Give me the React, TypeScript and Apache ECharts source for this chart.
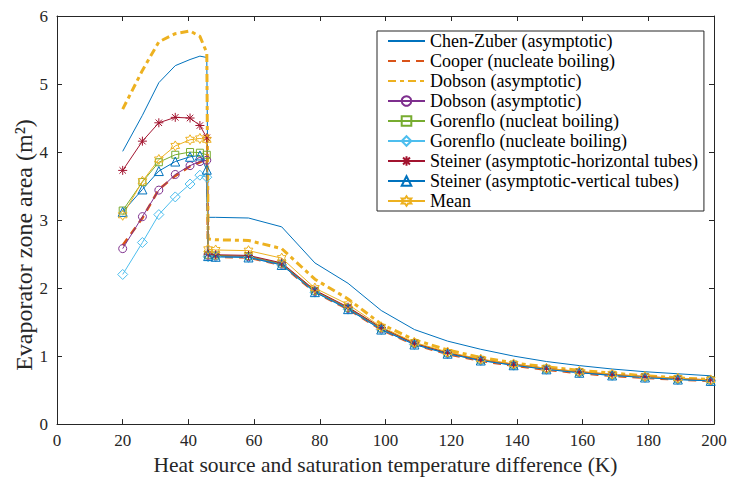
import React, { useEffect, useRef } from 'react';
import * as echarts from 'echarts';

const xVals = [20, 26, 31, 36, 40.5, 43.5, 45.6, 46, 48.3, 58.3, 68.4, 78.5, 88.6, 98.7, 108.8, 118.9, 129, 139, 149, 159, 169, 179, 189, 199];

const chenZuber = [4.01, 4.54, 5.02, 5.27, 5.36, 5.41, 5.39, 3.04, 3.04, 3.03, 2.90, 2.37, 2.07, 1.67, 1.39, 1.22, 1.10, 1.00, 0.92, 0.86, 0.81, 0.77, 0.74, 0.71];
const cooper = [2.63, 3.03, 3.45, 3.65, 3.79, 3.85, 3.90, 2.47, 2.46, 2.45, 2.34, 1.94, 1.69, 1.39, 1.17, 1.03, 0.93, 0.86, 0.80, 0.75, 0.71, 0.68, 0.655, 0.635];
const dobsonAsym = [4.63, 5.2, 5.62, 5.74, 5.78, 5.70, 5.46, 2.72, 2.71, 2.70, 2.58, 2.13, 1.84, 1.47, 1.24, 1.09, 0.98, 0.90, 0.84, 0.79, 0.75, 0.71, 0.68, 0.655];
const dobsonCircle = [2.58, 3.05, 3.44, 3.67, 3.80, 3.86, 3.88, 2.48, 2.47, 2.46, 2.35, 1.95, 1.70, 1.40, 1.18, 1.04, 0.94, 0.87, 0.81, 0.76, 0.72, 0.69, 0.66, 0.64];
const gorenfloNucleat = [3.14, 3.56, 3.85, 3.96, 4.00, 3.99, 3.96, 2.49, 2.48, 2.47, 2.36, 1.96, 1.71, 1.41, 1.19, 1.045, 0.945, 0.875, 0.815, 0.765, 0.725, 0.695, 0.665, 0.645];
const gorenfloNucleate = [2.20, 2.67, 3.08, 3.34, 3.53, 3.66, 3.63, 2.46, 2.46, 2.45, 2.34, 1.94, 1.69, 1.39, 1.17, 1.035, 0.935, 0.865, 0.805, 0.755, 0.715, 0.685, 0.655, 0.635];
const steinerH = [3.73, 4.16, 4.43, 4.51, 4.50, 4.39, 4.21, 2.50, 2.49, 2.48, 2.37, 1.97, 1.72, 1.42, 1.19, 1.05, 0.95, 0.88, 0.82, 0.77, 0.73, 0.70, 0.67, 0.65];
const steinerV = [3.12, 3.45, 3.72, 3.86, 3.93, 3.95, 3.74, 2.47, 2.46, 2.45, 2.34, 1.94, 1.69, 1.39, 1.17, 1.035, 0.935, 0.865, 0.805, 0.755, 0.715, 0.685, 0.655, 0.635];
const meanVals = [3.07, 3.57, 3.89, 4.09, 4.18, 4.20, 4.18, 2.57, 2.56, 2.55, 2.44, 2.00, 1.76, 1.43, 1.20, 1.06, 0.955, 0.885, 0.82, 0.775, 0.735, 0.70, 0.675, 0.65];

const seriesNames = [
  'Chen-Zuber (asymptotic)',
  'Cooper (nucleate boiling)',
  'Dobson (asymptotic)',
  'Dobson (asymptotic) ',
  'Gorenflo (nucleat boiling)',
  'Gorenflo (nucleate boiling)',
  'Steiner (asymptotic-horizontal tubes)',
  'Steiner (asymptotic-vertical tubes)',
  'Mean',
];

const xTicks = { min: 0, max: 200, interval: 20 };
const yTicks = { min: 0, max: 6, interval: 1 };

const FONT = "'Liberation Serif', 'Times New Roman', serif";
const AX = '#262626';

const ASTERISK = 'path://M0,-5L0,5M-5,0L5,0M-3.6,-3.6L3.6,3.6M-3.6,3.6L3.6,-3.6';
const HEXAGRAM = 'path://M0,-10L2.89,-5L8.66,-5L5.77,0L8.66,5L2.89,5L0,10L-2.89,5L-8.66,5L-5.77,0L-8.66,-5L-2.89,-5Z';

function mk(name: string, vals: number[], color: string, opts: any) {
  const hollow = opts.symbol && opts.symbol !== 'none';
  return {
    type: 'line',
    name,
    data: xVals.map((x, i) => [x, vals[i]]),
    showAllSymbol: true,
    symbol: opts.symbol || 'none',
    symbolSize: opts.size || 8,
    symbolKeepAspect: true,
    lineStyle: { color, width: opts.width || 1, type: opts.type || 'solid' },
    itemStyle: hollow
      ? { color: 'rgba(255,255,255,0)', borderColor: color, borderWidth: 1 }
      : { color },
    color,
    emphasis: { disabled: true },
  };
}

const noSymbol = new Set([0, 1, 2]);

export default function App() {
  const ref = useRef<HTMLDivElement>(null);
  useEffect(() => {
    const chart = echarts.init(ref.current!, null, { renderer: 'svg' });
    const option: any = {
      animation: false,
      backgroundColor: '#fff',
      textStyle: { fontFamily: FONT },
      grid: { left: 57, right: 17, top: 16, bottom: 51, containLabel: false },
      xAxis: [
        {
          type: 'value',
          ...xTicks,
          name: 'Heat source and saturation temperature difference (K)',
          nameLocation: 'middle',
          nameGap: 26,
          nameTextStyle: { fontFamily: FONT, fontSize: 21.5, color: AX },
          axisLine: { show: true, onZero: false, lineStyle: { color: AX, width: 1 } },
          axisTick: { show: true, inside: true, length: 5, lineStyle: { color: AX } },
          axisLabel: { fontFamily: FONT, fontSize: 17, color: AX, margin: 8 },
          splitLine: { show: false },
        },
        {
          type: 'value',
          ...xTicks,
          position: 'top',
          axisLine: { show: true, onZero: false, lineStyle: { color: AX, width: 1 } },
          axisTick: { show: true, inside: true, length: 5, lineStyle: { color: AX } },
          axisLabel: { show: false },
          splitLine: { show: false },
        },
      ],
      yAxis: [
        {
          type: 'value',
          ...yTicks,
          axisLine: { show: true, onZero: false, lineStyle: { color: AX, width: 1 } },
          axisTick: { show: true, inside: true, length: 5, lineStyle: { color: AX } },
          axisLabel: { fontFamily: FONT, fontSize: 17, color: AX, margin: 9 },
          splitLine: { show: false },
        },
        {
          type: 'value',
          ...yTicks,
          position: 'right',
          axisLine: { show: true, onZero: false, lineStyle: { color: AX, width: 1 } },
          axisTick: { show: true, inside: true, length: 5, lineStyle: { color: AX } },
          axisLabel: { show: false },
          splitLine: { show: false },
        },
      ],
      legend: {
        orient: 'vertical',
        left: 377,
        top: 31,
        padding: [0, 6, 0, 10],
        itemGap: 0,
        itemWidth: 37,
        itemHeight: 12,
        backgroundColor: '#fff',
        borderColor: AX,
        borderWidth: 1,
        borderRadius: 0,
        textStyle: { fontFamily: FONT, fontSize: 18, color: '#000', lineHeight: 20 },
        data: seriesNames.map((n, i) =>
          noSymbol.has(i) ? { name: n, itemStyle: { opacity: 0 } } : { name: n }
        ),
      },
      graphic: [
        {
          type: 'text',
          x: 24,
          y: 245,
          rotation: Math.PI / 2,
          style: {
            text: 'Evaporator zone area (m²)',
            fontFamily: FONT,
            fontSize: 24,
            fill: AX,
            align: 'center',
            verticalAlign: 'middle',
          },
        },
      ],
      series: [
        mk(seriesNames[0], chenZuber, '#0072BD', { width: 1 }),
        mk(seriesNames[1], cooper, '#D95319', { width: 2.5, type: [8, 6] }),
        mk(seriesNames[2], dobsonAsym, '#EDB120', { width: 3, type: [8, 4, 4, 4] }),
        mk(seriesNames[3], dobsonCircle, '#7E2F8E', { symbol: 'circle', size: 8 }),
        mk(seriesNames[4], gorenfloNucleat, '#77AC30', { symbol: 'rect', size: 7 }),
        mk(seriesNames[5], gorenfloNucleate, '#4DBEEE', { symbol: 'diamond', size: 10 }),
        mk(seriesNames[6], steinerH, '#A2142F', { symbol: ASTERISK, size: 9 }),
        mk(seriesNames[7], steinerV, '#0072BD', { symbol: 'triangle', size: 9 }),
        mk(seriesNames[8], meanVals, '#EDB120', { symbol: HEXAGRAM, size: 10 }),
      ],
    };
    chart.setOption(option);
    return () => chart.dispose();
  }, []);
  return <div ref={ref} style={{ position: 'fixed', left: 0, top: 0, width: 731, height: 481 }} />;
}
